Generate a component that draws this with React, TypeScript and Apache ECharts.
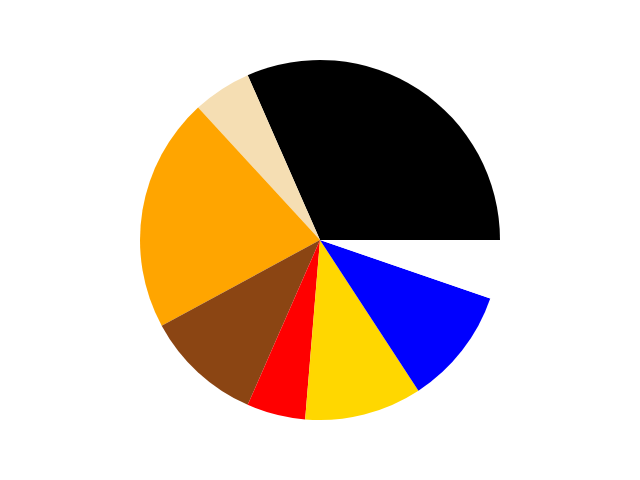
import React, { useEffect, useRef } from "react";
import * as echarts from "echarts";

const categories = ["A", "B", "C", "D", "E", "F", "G", "H"];
const values = [6, 1, 4, 2, 1, 2, 2, 1];
const colors = ["#000000", "#f5deb3", "#ffa500", "#8b4513", "#ff0000", "#ffd700", "#0000ff", "#ffffff"];

export default function App() {
  const ref = useRef<HTMLDivElement>(null);
  useEffect(() => {
    const chart = echarts.init(ref.current!, undefined, { renderer: "svg" });
    chart.setOption({
      animation: false,
      backgroundColor: "#ffffff",
      series: [
        {
          type: "pie",
          center: [320, 240],
          radius: [0, 180],
          startAngle: 0,
          clockwise: false,
          label: { show: false },
          labelLine: { show: false },
          emphasis: { disabled: true },
          itemStyle: { borderWidth: 0 },
          data: categories.map((c, i) => ({
            name: c,
            value: values[i],
            itemStyle: { color: colors[i] },
          })),
        },
      ],
    });
    return () => chart.dispose();
  }, []);
  return (
    <div style={{ position: "fixed", left: 0, top: 0 }}>
      <div ref={ref} style={{ width: 640, height: 480 }} />
    </div>
  );
}
